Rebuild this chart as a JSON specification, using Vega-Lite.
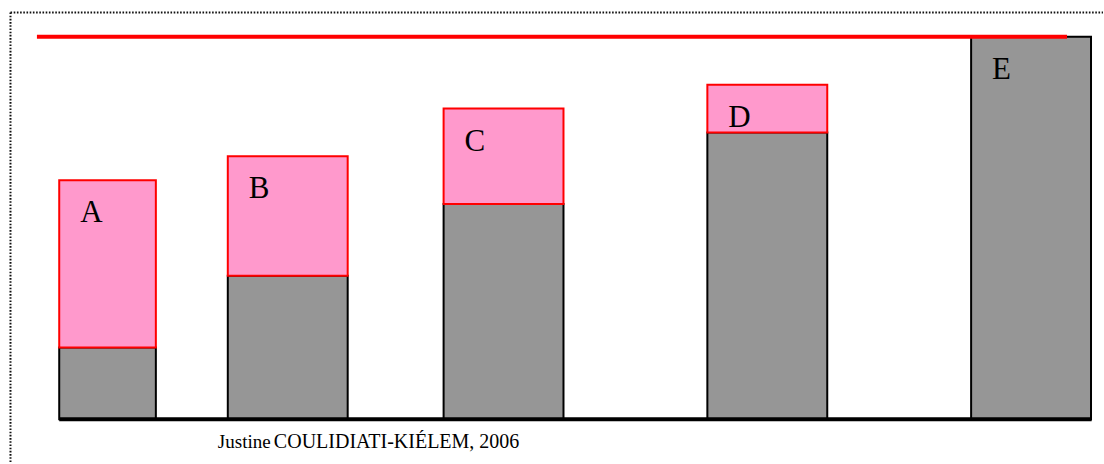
{
  "$schema": "https://vega.github.io/schema/vega-lite/v6.json",
  "width": 1104,
  "height": 464,
  "autosize": {"type": "fit", "contains": "padding"},
  "padding": 0,
  "background": "white",
  "config": {"view": {"stroke": null}},
  "datasets": {
    "bars": [
      {"bar": "A", "start": 4.94, "end": 13, "base": 3, "top": 10},
      {"bar": "B", "start": 19, "end": 29, "base": 6, "top": 11},
      {"bar": "C", "start": 37, "end": 47, "base": 9, "top": 13},
      {"bar": "D", "start": 59, "end": 69, "base": 12, "top": 14},
      {"bar": "E", "start": 81, "end": 91, "base": 16, "top": 16}
    ],
    "target": [{"start": 3.08, "end": 89, "level": 16}],
    "axis": [{"start": 4.94, "end": 91.05, "level": 0}],
    "caption": [{"name": "Justine", "rest": "COULIDIATI-KIÉLEM, 2006", "x": 18.17, "y": -1.21}]
  },
  "encoding": {
    "x": {"type": "quantitative", "scale": {"domain": [0, 92], "nice": false, "zero": false}, "axis": null},
    "y": {"type": "quantitative", "scale": {"domain": [-1.7917, 17.5417], "nice": false, "zero": false}, "axis": null}
  },
  "layer": [
    {
      "data": {"values": [{"x0": 0.875, "x1": 92, "yt": 17.02, "yb": -1.8}]},
      "mark": {"type": "rule", "stroke": "#111", "strokeWidth": 2, "strokeDash": [1.6, 1.6]},
      "encoding": {"x": {"field": "x0"}, "y": {"field": "yt"}, "y2": {"field": "yb"}}
    },
    {
      "data": {"values": [{"x0": 0.875, "x1": 92, "yt": 17.02, "yb": -1.8}]},
      "mark": {"type": "rule", "stroke": "#111", "strokeWidth": 2, "strokeDash": [1.6, 1.6]},
      "encoding": {"x": {"field": "x0"}, "x2": {"field": "x1"}, "y": {"field": "yt"}}
    },
    {
      "data": {"name": "bars"},
      "mark": {"type": "rect", "fill": "#969696", "stroke": "black", "strokeWidth": 2},
      "encoding": {"x": {"field": "start"}, "x2": {"field": "end"}, "y": {"field": "base"}, "y2": {"datum": 0}}
    },
    {
      "data": {"name": "bars"},
      "transform": [{"filter": "datum.top > datum.base"}],
      "mark": {"type": "rect", "fill": "#ff99cc", "stroke": "#ff0000", "strokeWidth": 2},
      "encoding": {"x": {"field": "start"}, "x2": {"field": "end"}, "y": {"field": "top"}, "y2": {"field": "base"}}
    },
    {
      "data": {"name": "bars"},
      "mark": {"type": "text", "font": "Liberation Serif", "fontSize": 31, "align": "left", "baseline": "alphabetic", "dx": 21, "dy": 42, "color": "black"},
      "encoding": {"x": {"field": "start"}, "y": {"field": "top"}, "text": {"field": "bar"}}
    },
    {
      "data": {"name": "target"},
      "mark": {"type": "rule", "stroke": "#ff0000", "strokeWidth": 4},
      "encoding": {"x": {"field": "start"}, "x2": {"field": "end"}, "y": {"field": "level"}}
    },
    {
      "data": {"name": "axis"},
      "mark": {"type": "rule", "stroke": "black", "strokeWidth": 4},
      "encoding": {"x": {"field": "start"}, "x2": {"field": "end"}, "y": {"field": "level"}}
    },
    {
      "data": {"name": "caption"},
      "mark": {"type": "text", "font": "Liberation Serif", "fontSize": 19, "align": "left", "baseline": "alphabetic", "color": "black"},
      "encoding": {"x": {"field": "x"}, "y": {"field": "y"}, "text": {"field": "name"}}
    },
    {
      "data": {"name": "caption"},
      "mark": {"type": "text", "font": "Liberation Serif", "fontSize": 20, "align": "left", "baseline": "alphabetic", "dx": 56, "color": "black"},
      "encoding": {"x": {"field": "x"}, "y": {"field": "y"}, "text": {"field": "rest"}}
    }
  ]
}
